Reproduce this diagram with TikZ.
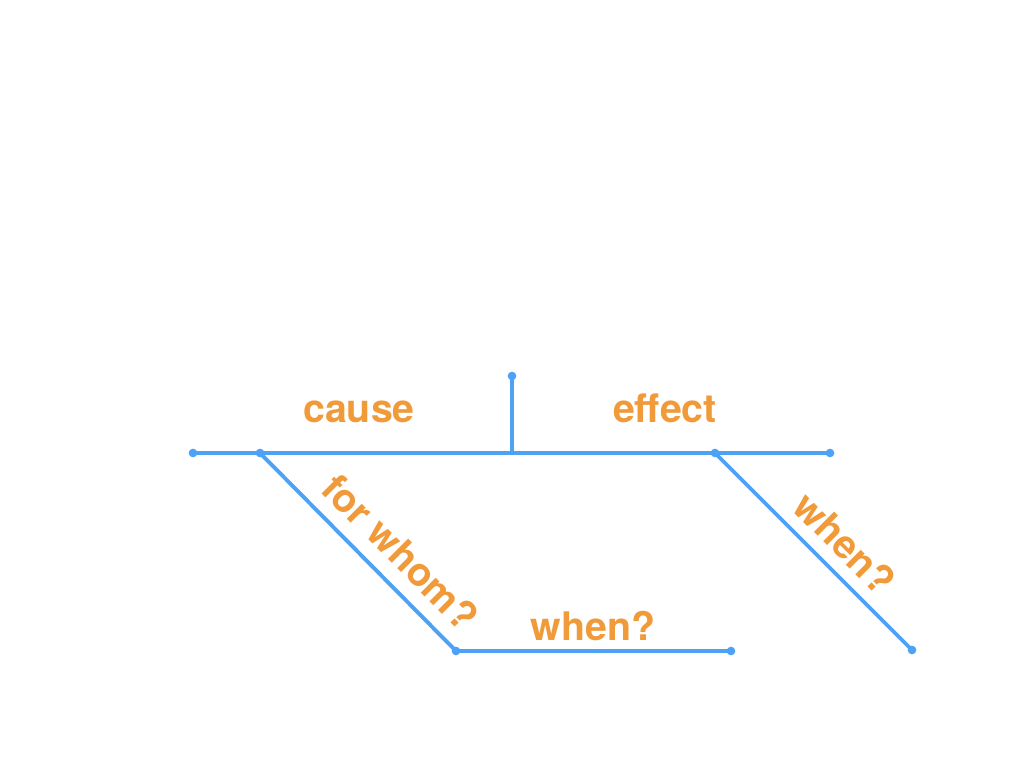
\documentclass[tikz,border=0pt]{standalone}
\usepackage{fontspec}
\setmainfont{TeX Gyre Heros}
\usepackage{tikz}
\usetikzlibrary{calc}
\definecolor{lineblue}{HTML}{4DA2F5}
\definecolor{wordorange}{HTML}{F09A3A}
\tikzstyle{diagline} = [draw,lineblue,line width=2.9pt,line cap=round]
\tikzstyle{enddot} = [circle,fill=lineblue,inner sep=0pt,minimum size=6.5pt]
\tikzstyle{word} = [wordorange,font=\fontsize{29.5}{32}\selectfont\bfseries,inner sep=0pt]

\begin{document}
\begin{tikzpicture}[x=0.75pt,y=0.75pt]
    \useasboundingbox (0,0) rectangle (1024,768);

    % points of the diagram
    \foreach \pos/ \name in {{(193,315)/ml},{(830,315)/mr}, {(512,392)/vt}, {(512,315)/vb}, {(260,315)/lt}, {(456,117)/lb}, {(731,117)/br}, {(715,315)/rt}, {(912,118)/rb}}
        \path \pos coordinate (\name);

    % lines
    \foreach \source/ \dest in {ml/mr, vb/vt, lt/lb, lb/br, rt/rb}
        \path[diagline] (\source) -- (\dest);

    % dots at the ends
    \foreach \name in {ml, mr, vt, lt, lb, br, rt, rb}
        \node[enddot] at (\name) {};

    % words
    \node[word,anchor=base] (cause) at (359,345) {cause};
    \node[word,anchor=base] (effect) at (665,345) {effect};
    \node[word] (forwhom) at (401,216) [rotate=-45] {for whom?};
    \node[word,anchor=base] (whenlow) at (593,128) {when?};
    \node[word] (whenright) at (845,225) [rotate=-45] {when?};

\end{tikzpicture}
\end{document}
